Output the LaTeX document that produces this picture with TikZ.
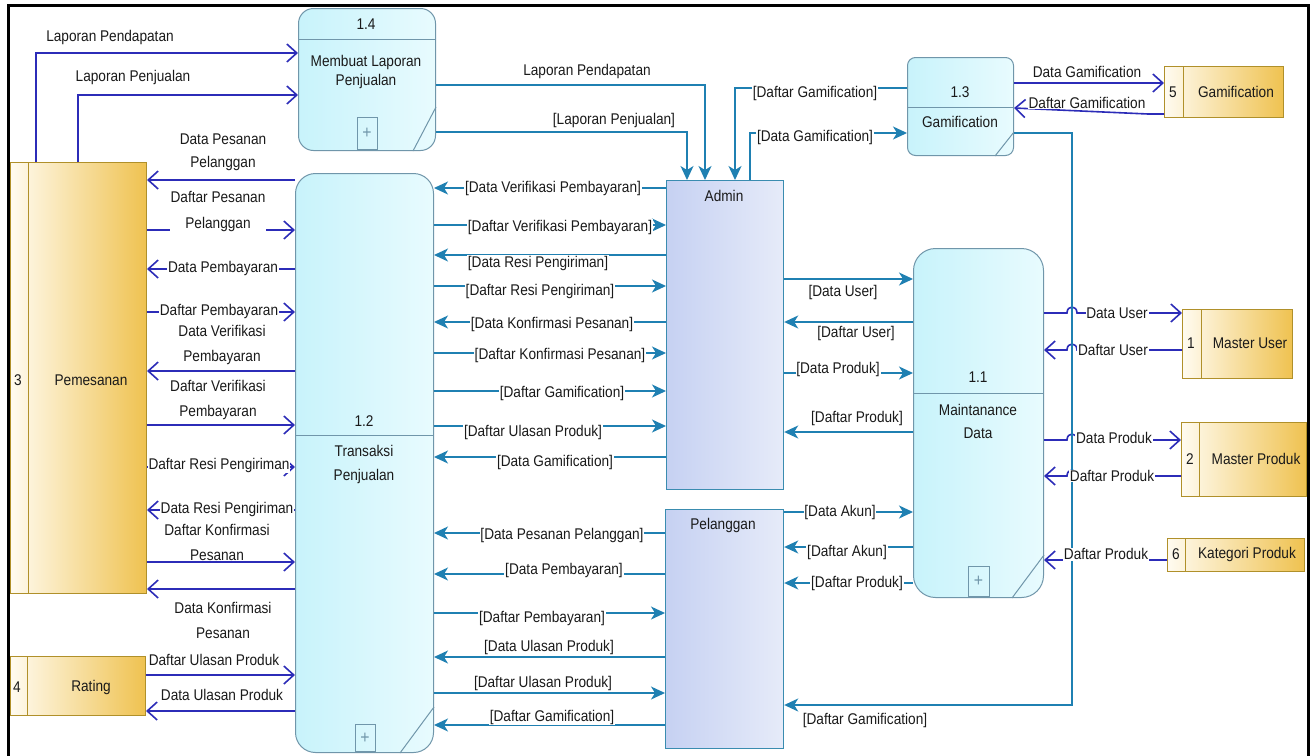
\documentclass[tikz,border=0pt]{standalone}
\usepackage{fontspec}
\setmainfont{Liberation Sans}[FakeStretch=0.88]
\usetikzlibrary{arrows.meta,shadings}
\definecolor{procb}{HTML}{7096AA}
\definecolor{procl}{HTML}{C8F3FB}
\definecolor{procr}{HTML}{E8FBFE}
\definecolor{entb}{HTML}{3A8CB0}
\definecolor{entl}{HTML}{C6D1F2}
\definecolor{entr}{HTML}{E6EBF9}
\definecolor{stb}{HTML}{B0902A}
\definecolor{stl}{HTML}{FFFBF0}
\definecolor{str}{HTML}{EFC250}
\definecolor{bluef}{HTML}{2C2CB8}
\definecolor{tealf}{HTML}{1F80B2}
\definecolor{txt}{HTML}{1A1A1A}
\newcommand\lblfont{\fontsize{15.5}{24}\selectfont}
\begin{document}
\begin{tikzpicture}[x=1pt,y=-1pt,
 proc/.style={draw=procb, line width=1pt, left color=procl, right color=procr, anchor=north west},
 ent/.style={draw=entb, line width=1.2pt, left color=entl, right color=entr, anchor=north west},
 store/.style={draw=stb, line width=1pt, left color=stl, right color=str, anchor=north west},
 bflow/.style={draw=bluef, line width=1.6pt, -{Straight Barb[length=10pt,width=18pt]}},
 tflow/.style={draw=tealf, line width=1.4pt, -{Stealth[length=14pt,width=13pt,inset=4pt]}},
 lbl/.style={fill=white, inner sep=0.8pt, font=\lblfont, text=txt, align=center},
 ptxt/.style={font=\lblfont, text=txt, align=center, inner sep=0pt},
 divl/.style={draw=procb, line width=1pt},
 sdiv/.style={draw=stb, line width=1pt},
 plusb/.style={draw=procb, line width=1pt, text=procb, inner sep=0pt, font=\fontsize{18}{18}\selectfont, anchor=south},
]
\useasboundingbox (0,0) rectangle (1314,755);
\fill[white] (0,0) rectangle (1314,755);
\draw[line width=3pt] (8,762) -- (8,5) -- (1308,5) -- (1308,762);

% ---------- processes ----------
\node[proc, rounded corners=15pt, minimum width=137pt, minimum height=142pt] (p14) at (298,8) {};
\draw[divl] (p14.west |- 0,39) -- (p14.east |- 0,39);
\draw[divl] (p14.south -| 413,0) -- (p14.east |- 0,107);
\node[plusb, minimum width=20pt, minimum height=32pt] (p14p) at (367,150) {+};
\node[ptxt] (p14n) at (366,24) {1.4};
\node[ptxt, font=\fontsize{15.5}{19}\selectfont] (p14t) at (366,72) {Membuat Laporan\\Penjualan};

\node[proc, rounded corners=20pt, minimum width=138pt, minimum height=579pt] (p12) at (295,173) {};
\draw[divl] (p12.west |- 0,435) -- (p12.east |- 0,435);
\draw[divl] (p12.south -| 400,0) -- (p12.east |- 0,707);
\node[plusb, minimum width=20pt, minimum height=27pt] (p12p) at (365,752) {+};
\node[ptxt] (p12n) at (364,421) {1.2};
\node[ptxt] (p12t) at (364,464) {Transaksi\\Penjualan};

\node[proc, rounded corners=8pt, minimum width=106pt, minimum height=98pt] (p13) at (907,57) {};
\draw[divl] (p13.west |- 0,107) -- (p13.east |- 0,107);
\draw[divl] (p13.south -| 995,0) -- (p13.east |- 0,132);
\node[ptxt] (p13n) at (960,92) {1.3};
\node[ptxt] (p13t) at (960,122) {Gamification};

\node[proc, rounded corners=22pt, minimum width=130pt, minimum height=349pt] (p11) at (913,248) {};
\draw[divl] (p11.west |- 0,393) -- (p11.east |- 0,393);
\draw[divl] (p11.south -| 1012,0) -- (p11.east |- 0,555);
\node[plusb, minimum width=21pt, minimum height=30pt] (p11p) at (978.5,597) {+};
\node[ptxt] (p11n) at (978,377) {1.1};
\node[ptxt, font=\fontsize{15.5}{23}\selectfont] (p11t) at (978,421) {Maintanance\\Data};

% ---------- entities ----------
\node[ent, minimum width=117pt, minimum height=309pt] (admin) at (666,180) {};
\node[ptxt] (admint) at (724,196) {Admin};
\node[ent, minimum width=118pt, minimum height=239pt] (pel) at (665,509) {};
\node[ptxt] (pelt) at (723,525) {Pelanggan};

% ---------- data stores ----------
\node[store, minimum width=136pt, minimum height=431pt] (s3) at (10,162) {};
\draw[sdiv] (s3.north -| 28,0) -- (s3.south -| 28,0);
\node[ptxt] (s3n) at (18,380) {3};
\node[ptxt] (s3t) at (91,380) {Pemesanan};

\node[store, minimum width=135pt, minimum height=59pt] (s4) at (10,656) {};
\draw[sdiv] (s4.north -| 27,0) -- (s4.south -| 27,0);
\node[ptxt] (s4n) at (17,687) {4};
\node[ptxt] (s4t) at (91,687) {Rating};

\node[store, minimum width=119pt, minimum height=51pt] (s5) at (1164,66) {};
\draw[sdiv] (s5.north -| 1183,0) -- (s5.south -| 1183,0);
\node[ptxt] (s5n) at (1173,92) {5};
\node[ptxt] (s5t) at (1236,92) {Gamification};

\node[store, minimum width=110pt, minimum height=69pt] (s1) at (1182,309) {};
\draw[sdiv] (s1.north -| 1201,0) -- (s1.south -| 1201,0);
\node[ptxt] (s1n) at (1191,343) {1};
\node[ptxt] (s1t) at (1250,343) {Master User};

\node[store, minimum width=125pt, minimum height=74pt] (s2) at (1181,422) {};
\draw[sdiv] (s2.north -| 1199,0) -- (s2.south -| 1199,0);
\node[ptxt] (s2n) at (1190,459) {2};
\node[ptxt] (s2t) at (1256,459) {Master Produk};

\node[store, minimum width=137pt, minimum height=33pt] (s6) at (1167,538) {};
\draw[sdiv] (s6.north -| 1185,0) -- (s6.south -| 1185,0);
\node[ptxt] (s6n) at (1176,554) {6};
\node[ptxt] (s6t) at (1247,554) {Kategori Produk};

% ---------- blue flows (data stores) ----------
\draw[bflow] (s3.north -| 36,0) |- (p14.west |- 0,53);
\draw[bflow] (s3.north -| 78,0) |- (p14.west |- 0,95);
\draw[bflow] (p12.west |- 0,180) -- (s3.east |- 0,180);
\draw[bflow] (s3.east |- 0,230) -- (p12.west |- 0,230);
\draw[bflow] (p12.west |- 0,269) -- (s3.east |- 0,269);
\draw[bflow] (s3.east |- 0,312) -- (p12.west |- 0,312);
\draw[bflow] (p12.west |- 0,371) -- (s3.east |- 0,371);
\draw[bflow] (s3.east |- 0,425) -- (p12.west |- 0,425);
\draw[bflow] (s3.east |- 0,467) -- (p12.west |- 0,467);
\draw[bflow] (p12.west |- 0,510) -- (s3.east |- 0,510);
\draw[bflow] (s3.east |- 0,562) -- (p12.west |- 0,562);
\draw[bflow] (p12.west |- 0,589) -- (s3.east |- 0,589);
\draw[bflow] (s4.east |- 0,675) -- (p12.west |- 0,675);
\draw[bflow] (p12.west |- 0,711) -- (s4.east |- 0,711);

\draw[bflow] (p13.east |- 0,83) -- (s5.west |- 0,83);
\draw[bflow] (s5.west |- 0,114) -- (1148,114) -- (p13.east |- 0,108);
\draw[bflow] (p11.east |- 0,313) -- (1067,313) .. controls (1067,305) and (1077,305) .. (1077,313) -- (s1.west |- 0,313);
\draw[bflow] (s1.west |- 0,350) -- (1077,350) .. controls (1077,342) and (1067,342) .. (1067,350) -- (p11.east |- 0,350);
\draw[bflow] (p11.east |- 0,440) -- (1067,440) .. controls (1067,432) and (1077,432) .. (1077,440) -- (s2.west |- 0,440);
\draw[bflow] (s2.west |- 0,476) -- (1077,476) .. controls (1077,468) and (1067,468) .. (1067,476) -- (p11.east |- 0,476);
\draw[bflow] (s6.west |- 0,560) -- (p11.east |- 0,560);

% ---------- teal flows ----------
\draw[tflow] (p14.east |- 0,85) -| (admin.north -| 705,0);
\draw[tflow] (p14.east |- 0,132) -| (admin.north -| 687,0);
\draw[tflow] (p13.west |- 0,88) -| (admin.north -| 735,0);
\draw[tflow] (admin.north -| 750,0) |- (p13.west |- 0,133);

\draw[tflow] (admin.west |- 0,188) -- (p12.east |- 0,188);
\draw[tflow] (p12.east |- 0,225) -- (admin.west |- 0,225);
\draw[tflow] (admin.west |- 0,255) -- (p12.east |- 0,255);
\draw[tflow] (p12.east |- 0,286) -- (admin.west |- 0,286);
\draw[tflow] (admin.west |- 0,322) -- (p12.east |- 0,322);
\draw[tflow] (p12.east |- 0,353) -- (admin.west |- 0,353);
\draw[tflow] (p12.east |- 0,391) -- (admin.west |- 0,391);
\draw[tflow] (p12.east |- 0,426) -- (admin.west |- 0,426);
\draw[tflow] (admin.west |- 0,457) -- (p12.east |- 0,457);

\draw[tflow] (pel.west |- 0,533) -- (p12.east |- 0,533);
\draw[tflow] (pel.west |- 0,574) -- (p12.east |- 0,574);
\draw[tflow] (p12.east |- 0,613) -- (pel.west |- 0,613);
\draw[tflow] (pel.west |- 0,657) -- (p12.east |- 0,657);
\draw[tflow] (p12.east |- 0,693) -- (pel.west |- 0,693);
\draw[tflow] (pel.west |- 0,725) -- (p12.east |- 0,725);

\draw[tflow] (admin.east |- 0,279) -- (p11.west |- 0,279);
\draw[tflow] (p11.west |- 0,322) -- (admin.east |- 0,322);
\draw[tflow] (admin.east |- 0,373) -- (p11.west |- 0,373);
\draw[tflow] (p11.west |- 0,432) -- (admin.east |- 0,432);
\draw[tflow] (pel.east |- 0,512) -- (p11.west |- 0,512);
\draw[tflow] (p11.west |- 0,547) -- (pel.east |- 0,547);
\draw[tflow] (p11.west |- 0,583) -- (pel.east |- 0,583);
\draw[tflow] (p13.east |- 0,133) -- (1072,133) -- (1072,705) -- (pel.east |- 0,705);

% ---------- labels: blue ----------
\node[lbl] (lb1) at (110,37) {Laporan Pendapatan};
\node[lbl] (lb2) at (133,77) {Laporan Penjualan};
\node[lbl, font=\fontsize{15.5}{23}\selectfont] (lb3) at (223,152) {Data Pesanan\\Pelanggan};
\node[lbl, font=\fontsize{15.5}{26}\selectfont] (lb4) at (218,211) {Daftar Pesanan\\Pelanggan};
\node[lbl] (lb5) at (223,268) {Data Pembayaran};
\node[lbl] (lb6) at (219,311) {Daftar Pembayaran};
\node[lbl, font=\fontsize{15.5}{25}\selectfont] (lb7) at (222,345) {Data Verifikasi\\Pembayaran};
\node[lbl, font=\fontsize{15.5}{25}\selectfont] (lb8) at (218,400) {Daftar Verifikasi\\Pembayaran};
\node[lbl] (lb9) at (219,465) {Daftar Resi Pengiriman};
\node[lbl] (lb10) at (227,509) {Data Resi Pengiriman};
\node[lbl, font=\fontsize{15.5}{25}\selectfont] (lb11) at (217,542) {Daftar Konfirmasi\\Pesanan};
\node[lbl, font=\fontsize{15.5}{25}\selectfont] (lb12) at (223,620) {Data Konfirmasi\\Pesanan};
\node[lbl] (lb13) at (214,660) {Daftar Ulasan Produk};
\node[lbl] (lb14) at (222,695) {Data Ulasan Produk};
\node[lbl] (lb15) at (1087,72) {Data Gamification};
\node[lbl] (lb16) at (1087,103) {Daftar Gamification};
\node[lbl] (lb17) at (1117,313) {Data User};
\node[lbl] (lb18) at (1113,350) {Daftar User};
\node[lbl] (lb19) at (1114,438) {Data Produk};
\node[lbl] (lb20) at (1112,476) {Daftar Produk};
\node[lbl] (lb21) at (1106,554) {Daftar Produk};

% ---------- labels: teal ----------
\node[lbl] (lt1) at (587,71) {Laporan Pendapatan};
\node[lbl] (lt2) at (614,120) {[Laporan Penjualan]};
\node[lbl] (lt3) at (815,93) {[Daftar Gamification]};
\node[lbl] (lt4) at (815,137) {[Data Gamification]};
\node[lbl] (lt5) at (553,188) {[Data Verifikasi Pembayaran]};
\node[lbl] (lt6) at (560,227) {[Daftar Verifikasi Pembayaran]};
\node[lbl] (lt7) at (538,263) {[Data Resi Pengiriman]};
\node[lbl] (lt8) at (540,291) {[Daftar Resi Pengiriman]};
\node[lbl] (lt9) at (552,324) {[Data Konfirmasi Pesanan]};
\node[lbl] (lt10) at (560,355) {[Daftar Konfirmasi Pesanan]};
\node[lbl] (lt11) at (562,393) {[Daftar Gamification]};
\node[lbl] (lt12) at (533,432) {[Daftar Ulasan Produk]};
\node[lbl] (lt13) at (555,462) {[Data Gamification]};
\node[lbl] (lt14) at (562,535) {[Data Pesanan Pelanggan]};
\node[lbl] (lt15) at (564,570) {[Data Pembayaran]};
\node[lbl] (lt16) at (542,618) {[Daftar Pembayaran]};
\node[lbl] (lt17) at (549,647) {[Data Ulasan Produk]};
\node[lbl] (lt18) at (543,683) {[Daftar Ulasan Produk]};
\node[lbl] (lt19) at (552,717) {[Daftar Gamification]};
\node[lbl] (lt20) at (843,292) {[Data User]};
\node[lbl] (lt21) at (856,333) {[Daftar User]};
\node[lbl] (lt22) at (838,369) {[Data Produk]};
\node[lbl] (lt23) at (857,418) {[Daftar Produk]};
\node[lbl] (lt24) at (840,512) {[Data Akun]};
\node[lbl] (lt25) at (847,552) {[Daftar Akun]};
\node[lbl] (lt26) at (857,583) {[Daftar Produk]};
\node[lbl] (lt27) at (865,720) {[Daftar Gamification]};
\end{tikzpicture}
\end{document}
